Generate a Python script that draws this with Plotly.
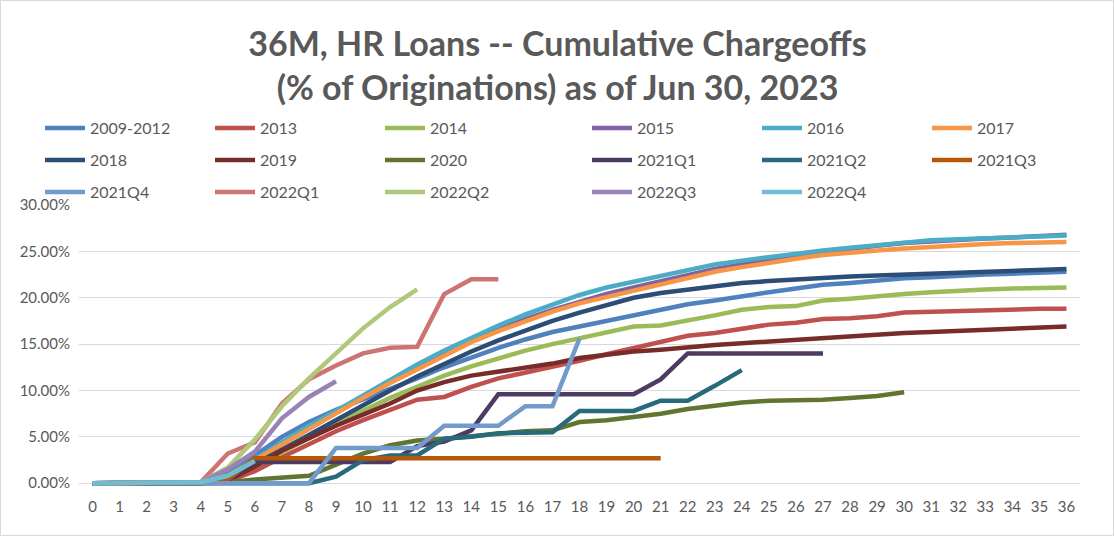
import plotly.graph_objects as go

months = list(range(0, 37))
month_labels = [str(m) for m in months]

vintages = ["2009-2012", "2013", "2014", "2015", "2016", "2017", "2018", "2019", "2020",
            "2021Q1", "2021Q2", "2021Q3", "2021Q4", "2022Q1", "2022Q2", "2022Q3", "2022Q4"]

# cumulative chargeoffs, % of originations, by month on book
v2009_2012 = [0, 0, 0, 0, 0.1, 1.2, 3.0, 5.0, 6.6, 7.9, 9.0, 10.1, 11.3, 12.5, 13.6, 14.6, 15.5, 16.3, 16.9,
              17.5, 18.2, 18.8, 19.3, 19.7, 20.2, 20.6, 21.0, 21.4, 21.6, 21.9, 22.1, 22.2, 22.4, 22.5, 22.6, 22.7, 22.8]
v2013 = [0, 0, 0, 0, 0, 0.2, 1.3, 2.8, 4.2, 5.6, 6.8, 7.9, 9.0, 9.3, 10.4, 11.3, 11.9, 12.5, 13.2, 13.9, 14.6,
         15.2, 15.9, 16.2, 16.7, 17.1, 17.3, 17.7, 17.8, 18.0, 18.4, 18.5, 18.6, 18.6, 18.7, 18.8, 18.8]
v2014 = [0, 0, 0, 0, 0, 0.5, 1.8, 3.3, 4.9, 6.4, 7.8, 9.2, 10.4, 11.6, 12.6, 13.5, 14.3, 15.0, 15.6, 16.2, 16.9,
         17.0, 17.5, 18.1, 18.7, 19.0, 19.1, 19.7, 19.9, 20.2, 20.4, 20.6, 20.8, 20.9, 21.0, 21.1, 21.1]
v2015 = [0, 0, 0, 0, 0.1, 0.8, 2.5, 4.3, 6.0, 7.7, 9.3, 10.9, 12.5, 14.0, 15.4, 16.6, 17.7, 18.7, 19.6, 20.4,
         21.1, 21.8, 22.5, 23.1, 23.6, 24.1, 24.5, 24.9, 25.3, 25.6, 25.9, 26.1, 26.3, 26.4, 26.5, 26.6, 26.8]
v2016 = [0, 0, 0, 0, 0.1, 0.8, 2.6, 4.5, 6.2, 7.8, 9.5, 11.2, 12.8, 14.3, 15.7, 17.0, 18.2, 19.3, 20.3, 21.1,
         21.7, 22.4, 23.0, 23.6, 24.0, 24.4, 24.8, 25.1, 25.4, 25.7, 26.0, 26.2, 26.3, 26.4, 26.5, 26.6, 26.7]
v2017 = [0, 0, 0, 0, 0.1, 0.8, 2.5, 4.2, 5.9, 7.6, 9.2, 10.8, 12.3, 13.8, 15.2, 16.4, 17.5, 18.5, 19.4, 20.1,
         20.8, 21.5, 22.2, 22.8, 23.3, 23.8, 24.2, 24.6, 24.9, 25.1, 25.3, 25.5, 25.7, 25.8, 25.9, 26.0, 26.0]
v2018 = [0, 0, 0, 0, 0.1, 0.5, 2.0, 3.6, 5.2, 6.8, 8.5, 10.0, 11.5, 12.9, 14.2, 15.4, 16.5, 17.5, 18.4, 19.2,
         20.0, 20.5, 20.9, 21.2, 21.6, 21.8, 22.0, 22.2, 22.3, 22.4, 22.5, 22.6, 22.7, 22.8, 22.9, 23.0, 23.1]
v2019 = [0, 0, 0, 0, 0, 0.3, 1.8, 3.5, 4.9, 6.2, 7.4, 8.6, 10.0, 10.9, 11.6, 12.0, 12.5, 12.9, 13.5, 13.9,
         14.2, 14.4, 14.7, 14.9, 15.1, 15.3, 15.4, 15.6, 15.8, 16.0, 16.2, 16.3, 16.4, 16.5, 16.7, 16.7, 16.9]
v2020 = [0, 0, 0, 0, 0, 0.1, 0.4, 0.6, 0.8, 2.0, 3.2, 4.1, 4.6, 4.8, 5.1, 5.4, 5.6, 5.7, 6.6, 6.8, 7.1,
         7.5, 8.0, 8.4, 8.7, 8.9, 8.9, 9.0, 9.2, 9.4, 9.8]
v2021q1 = [0, 0, 0, 0, 0, 0.3, 2.3, 2.3, 2.3, 2.3, 2.3, 2.3, 4.0, 4.5, 5.7, 9.6, 9.6, 9.6, 9.6, 9.6, 9.6,
           11.2, 14.0, 14.0, 14.0, 14.0, 14.0, 14.0]
v2021q2 = [0, 0, 0, 0, 0, 0, 0, 0, 0, 0.7, 2.5, 3.0, 3.0, 4.8, 5.0, 5.4, 5.5, 5.5, 7.8, 7.8, 7.8,
           8.9, 8.9, 10.5, 12.2]
v2021q3 = [0, 0, 0, 0, 0, 0.4, 2.7, 2.7, 2.7, 2.7, 2.7, 2.7, 2.7, 2.7, 2.7, 2.7, 2.7, 2.7, 2.7, 2.7, 2.7, 2.7]
v2021q4 = [0, 0, 0, 0, 0, 0, 0, 0, 0, 3.8, 3.8, 3.8, 3.8, 6.2, 6.2, 6.2, 8.3, 8.3, 15.6]
v2022q1 = [0, 0, 0, 0, 0.1, 3.2, 4.4, 8.6, 11.2, 12.7, 14.0, 14.6, 14.7, 20.4, 22.0, 22.0]
v2022q2 = [0, 0, 0, 0, 0.1, 1.7, 4.7, 8.3, 11.3, 14.0, 16.7, 19.0, 20.9]
v2022q3 = [0, 0, 0, 0, 0.1, 1.5, 3.4, 7.0, 9.3, 11.0]
v2022q4 = [0, 0, 0, 0, 0.1, 0.8, 2.4]

series_values = [v2009_2012, v2013, v2014, v2015, v2016, v2017, v2018, v2019, v2020,
                 v2021q1, v2021q2, v2021q3, v2021q4, v2022q1, v2022q2, v2022q3, v2022q4]

colors = ["#4F81BD", "#C0504D", "#9BBB59", "#8064A2", "#4BACC6", "#F79646",
          "#2C4D75", "#772C2A", "#5F7530", "#4D3B62", "#276A7C", "#B65708",
          "#729ACA", "#CD7371", "#AFC97A", "#9983B5", "#6FBDD1"]

# legend layout: 3 rows x (3 + 3) columns, as in the original
legend_of = ["legend", "legend", "legend", "legend2", "legend2", "legend2",
             "legend3", "legend3", "legend3", "legend4", "legend4", "legend4",
             "legend5", "legend5", "legend5", "legend6", "legend6"]

FONT = "Lato"
GREY = "#595959"

fig = go.Figure()
for name, vals, col, lg in zip(vintages, series_values, colors, legend_of):
    fig.add_trace(go.Scatter(
        x=months[:len(vals)], y=[v / 100 for v in vals], name=name, mode="lines",
        line=dict(color=col, width=4.5, shape="linear"), legend=lg,
    ))

L, R, T, B = 79, 35, 205, 50
W, H = 1115, 536
pw, ph = W - L - R, H - T - B


def px_x(px):
    return (px - L) / pw


def px_y(py):
    return (H - B - py) / ph


row_y = [128, 160, 192]
col_x = [40, 587]
leg_common = dict(orientation="h", xanchor="left", yanchor="middle", bgcolor="rgba(0,0,0,0)",
                  font=dict(family=FONT, size=16, color=GREY), entrywidth=115, itemwidth=40,
                  traceorder="normal")
legends = {}
names = ["legend", "legend2", "legend3", "legend4", "legend5", "legend6"]
for i, nm in enumerate(names):
    r, c = i // 2, i % 2
    legends[nm] = dict(x=px_x(col_x[c]), y=px_y(row_y[r]), **leg_common)

fig.update_layout(
    width=W, height=H,
    margin=dict(l=L, r=R, t=T, b=B),
    paper_bgcolor="white", plot_bgcolor="white",
    font=dict(family=FONT, color=GREY),
    title=dict(text="<b>36M, HR Loans -- Cumulative Chargeoffs<br>(% of Originations) as of Jun 30, 2023</b>",
               x=0.5, xanchor="center", y=1 - 56 / H, yanchor="middle", yref="container",
               font=dict(family=FONT, size=34, color=GREY)),
    xaxis=dict(range=[-0.5, 36.5], tickmode="array", tickvals=months, ticktext=month_labels,
               showgrid=False, zeroline=False, showline=False, ticks="", ticklabelstandoff=10,
               tickfont=dict(family=FONT, size=15, color=GREY), fixedrange=True),
    yaxis=dict(range=[-0.003, 0.30], tickvals=[0, 0.05, 0.10, 0.15, 0.20, 0.25, 0.30], tickformat=".2%",
               showgrid=True, gridcolor="#D9D9D9", gridwidth=1.3, zeroline=False, showline=False,
               ticks="", ticklabelstandoff=8,
               tickfont=dict(family=FONT, size=15, color=GREY)),
    showlegend=True,
    shapes=[dict(type="rect", xref="paper", yref="paper",
                 x0=px_x(0.5), x1=px_x(W - 1.5), y0=px_y(H - 0.5), y1=px_y(0.5),
                 line=dict(color="#D9D9D9", width=1), layer="below")],
    **legends,
)

fig.write_html("out.html", config={"displayModeBar": False},
               post_script="document.body.style.margin='0px';")
